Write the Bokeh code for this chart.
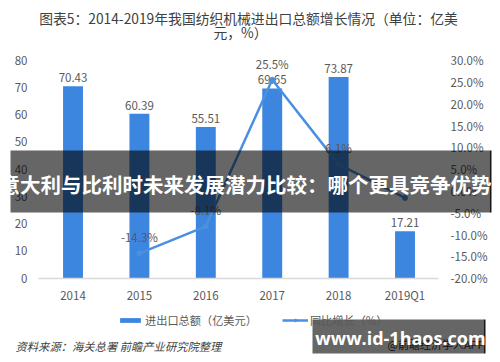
from bokeh.plotting import figure
from bokeh.models import (Range1d, LinearAxis, FixedTicker, PrintfTickFormatter,
                          ColumnDataSource, Legend, LegendItem, Label, BoxAnnotation)
from bokeh.core.properties import value
from bokeh.embed import file_html
from bokeh.resources import INLINE

# ---- data ----
categories = ["2014", "2015", "2016", "2017", "2018", "2019Q1"]
trade_total = [70.43, 60.39, 55.51, 69.65, 73.87, 17.21]
growth_cats = ["2015", "2016", "2017", "2018", "2019Q1"]
growth_pct = [-14.3, -8.1, 25.5, 6.1, -1.6]
growth_shown = ["-14.3%", "-8.1%", "25.5%", "6.1%", ""]
left_ticks = [0, 10, 20, 30, 40, 50, 60, 70, 80]
right_ticks = [-20, -15, -10, -5, 0, 5, 10, 15, 20, 25, 30]

FONT = "Noto Sans CJK SC"
GRAY = "#595959"
BAR = "#3d86e0"
LINE = "#4a90e2"

W, H = 500, 362

# category positions (index along the category axis)
cat_pos = list(range(len(categories)))
growth_pos = [categories.index(c) for c in growth_cats]

p = figure(width=W, height=H, title=None,
           x_range=Range1d(-1.092, 6.438), y_range=Range1d(-30.94, 101.91),
           output_backend="svg", toolbar_location=None, min_border=0,
           min_border_left=0, min_border_right=0, min_border_top=0, min_border_bottom=0,
           outline_line_color=None, background_fill_color="white", border_fill_color="white")
p.extra_y_ranges = {"pct": Range1d(-39.34, 43.69)}
p.grid.visible = False

bar_src = ColumnDataSource(dict(x=cat_pos, top=trade_total, lab=[f"{v:.2f}" for v in trade_total]))
line_src = ColumnDataSource(dict(x=growth_pos, y=growth_pct, lab=growth_shown))

bars = p.vbar(x="x", top="top", width=0.3, source=bar_src, fill_color=BAR, line_color=None)
p.text(x="x", y="top", text="lab", source=bar_src, text_align="center", text_baseline="bottom",
       y_offset=-4, text_font=value(FONT), text_font_size="11.5px", text_color=GRAY)

ln = p.line(x="x", y="y", source=line_src, y_range_name="pct", line_color=LINE, line_width=2.5)
pts = p.scatter(x="x", y="y", source=line_src, y_range_name="pct", size=5,
                fill_color=LINE, line_color=LINE)
p.text(x="x", y="y", text="lab", source=line_src, y_range_name="pct", text_align="center",
       text_baseline="bottom", y_offset=-8, text_font=value(FONT), text_font_size="11.5px",
       text_color=GRAY)

AX_L, AX_R = -0.52, 5.505

# axes (drawn at fixed locations so the plotting frame fills the canvas)
ya = p.yaxis[0]
ya.fixed_location = AX_L
ya.ticker = FixedTicker(ticks=left_ticks)
ya.axis_line_color = None
ya.major_tick_line_color = None
ya.major_tick_out = 0
ya.minor_tick_line_color = None
ya.major_label_standoff = 11
ya.major_label_text_font = FONT
ya.major_label_text_font_size = "11.5px"
ya.major_label_text_color = GRAY

ra = LinearAxis(y_range_name="pct", ticker=FixedTicker(ticks=right_ticks),
                formatter=PrintfTickFormatter(format="%.1f%%"), fixed_location=AX_R)
ra.axis_line_color = None
ra.major_tick_line_color = None
ra.major_tick_out = 0
ra.minor_tick_line_color = None
ra.major_label_standoff = 12
ra.major_label_text_font = FONT
ra.major_label_text_font_size = "11.5px"
ra.major_label_text_color = GRAY
p.add_layout(ra, "right")

xa = p.xaxis[0]
xa.fixed_location = 0
xa.bounds = (AX_L, AX_R)
xa.ticker = FixedTicker(ticks=cat_pos)
xa.major_label_overrides = {i: c for i, c in zip(cat_pos, categories)}
xa.axis_line_color = "#d9d9d9"
xa.axis_line_width = 1.5
xa.major_tick_line_color = None
xa.major_tick_out = 0
xa.minor_tick_line_color = None
xa.major_label_standoff = 9
xa.major_label_text_font = FONT
xa.major_label_text_font_size = "11.5px"
xa.major_label_text_color = GRAY

legend = Legend(items=[LegendItem(label="进出口总额（亿美元）", renderers=[bars]),
                       LegendItem(label="同比增长（%）", renderers=[ln, pts])],
                orientation="horizontal", location=(117, 34), margin=0, padding=0,
                spacing=25, glyph_width=26, glyph_height=6, label_standoff=2,
                label_text_font=FONT, label_text_font_size="11.2px", label_text_color=GRAY,
                border_line_color=None, background_fill_alpha=0)
p.add_layout(legend)

def lab(text, x, y, size, color, align="center", style="normal", font=FONT):
    p.add_layout(Label(x=x, y=y, x_units="canvas", y_units="canvas", text=text,
                       text_font=font, text_font_size=size, text_color=color,
                       text_align=align, text_baseline="middle", text_font_style=style))

def box(left, right, top, bottom, alpha):
    p.add_layout(BoxAnnotation(left=left, right=right, top=top, bottom=bottom,
                               left_units="canvas", right_units="canvas",
                               top_units="canvas", bottom_units="canvas",
                               fill_color="black", fill_alpha=alpha, line_color=None))

# title
lab("图表5：2014-2019年我国纺织机械进出口总额增长情况（单位：亿美", 248, 17, "13.8px", "#404040")
lab("元，%）", 240, 31, "13.8px", "#404040")
# source
lab("资料来源：海关总署 前瞻产业研究院整理", 15, 345, "11.3px", "#404040", align="left", style="italic")

# overlay banner
box(10, 489, 150, 212, 0.6)
box(489, 491, 150, 212, 0.9)
lab("意大利与比利时未来发展潜力比较：哪个更具竞争优势", 245, 183, "20.5px", "white", style="bold")

# bottom-right banner
lab("@前瞻经济学人APP", 484, 343, "11px", "#333333", align="right")
box(312, 483, 319, 353, 0.6)
box(483, 485, 319, 353, 0.9)
lab("www.id-1haos.com", 400, 337, "18px", "white", style="bold", font="Open Sans")

open("out.html", "w").write(file_html(p, INLINE))
